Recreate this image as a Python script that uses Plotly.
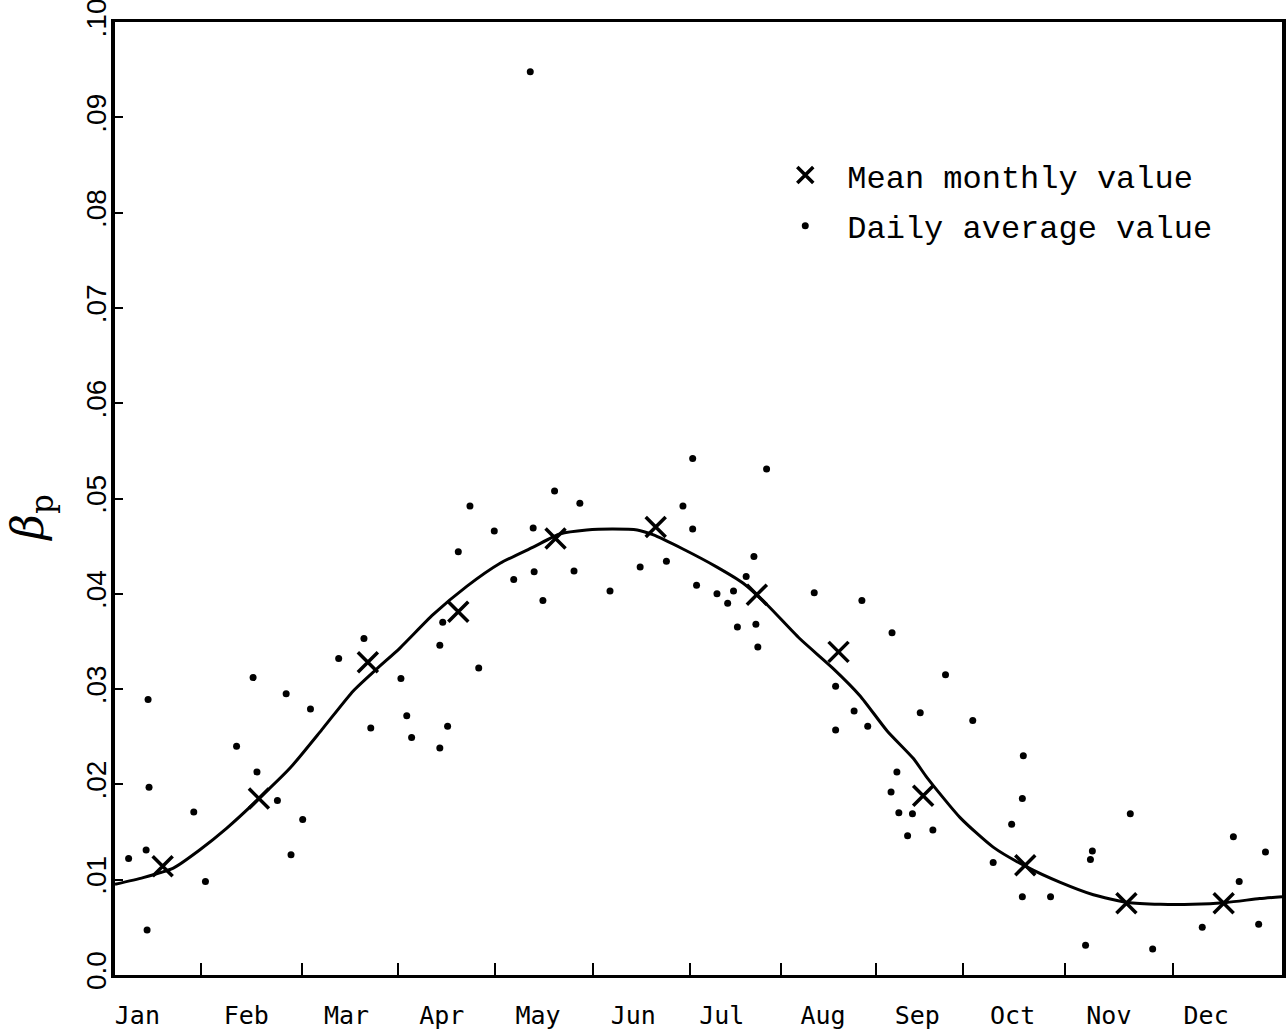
import plotly.graph_objects as go

# ---- axis layout (x in months: 0 = 1 Jan, 12 = 31 Dec) ----
month_labels = ["Jan", "Feb", "Mar", "Apr", "May", "Jun",
                "Jul", "Aug", "Sep", "Oct", "Nov", "Dec"]
month_label_pos = [0.23, 1.35, 2.38, 3.36, 4.35, 5.33,
                   6.24, 7.28, 8.25, 9.23, 10.22, 11.22]
month_bounds = [0.88, 1.92, 2.91, 3.91, 4.92, 5.91,
                6.85, 7.82, 8.72, 9.77, 10.88]

y_tick_vals = [0.00, 0.01, 0.02, 0.03, 0.04, 0.05, 0.06, 0.07, 0.08, 0.09, 0.10]
y_tick_text = ["0.0", ".01", ".02", ".03", ".04", ".05", ".06", ".07", ".08", ".09", ".10"]

# ---- mean monthly turbidity coefficient ----
mean_month = [0.49, 1.48, 2.60, 3.53, 4.53, 5.56, 6.60, 7.44, 8.31, 9.36, 10.40, 11.40]
mean_beta = [0.0114, 0.0185, 0.0328, 0.0381, 0.0458, 0.0470,
             0.0399, 0.0339, 0.0188, 0.0115, 0.0075, 0.0075]

# ---- smoothed annual curve ----
curve_month = [0.00, 0.29, 0.60, 0.87, 1.15, 1.47, 1.80, 2.14, 2.45, 2.69,
               2.93, 3.27, 3.62, 3.96, 4.30, 4.58, 4.85, 5.12, 5.37, 5.53,
               5.84, 6.19, 6.46, 6.70, 7.04, 7.38, 7.66, 7.94, 8.21, 8.35,
               8.69, 9.03, 9.38, 9.72, 10.06, 10.41, 10.75, 11.08, 11.43, 11.77, 12.00]
curve_beta = [0.0095, 0.0102, 0.0112, 0.0131, 0.0154, 0.0184, 0.0217, 0.0259, 0.0298, 0.0321,
              0.0343, 0.0378, 0.0408, 0.0432, 0.0449, 0.0463, 0.0467, 0.0468, 0.0467, 0.0462,
              0.0447, 0.0428, 0.0411, 0.0389, 0.0353, 0.0322, 0.0293, 0.0256, 0.0227, 0.0207,
              0.0165, 0.0134, 0.0113, 0.0097, 0.0084, 0.0076, 0.0074, 0.0074, 0.0076, 0.0080, 0.0082]

# ---- daily average values ----
daily_month = [3.34, 2.30, 1.42, 1.76, 2.94, 0.34, 3.00, 2.01, 2.63, 3.42,
               3.05, 1.25, 1.46, 0.35, 1.67, 0.81, 1.93, 0.32, 0.14, 1.81,
               0.93, 0.33, 2.56, 3.34,
               4.52, 4.78, 3.65, 5.84, 5.94, 3.90, 4.30, 3.53, 4.31, 4.72,
               5.40, 5.67, 4.10, 5.09, 4.40, 5.98, 6.19, 6.36, 6.30, 3.37,
               6.40, 3.74,
               6.70, 6.57, 6.49, 7.19, 7.68, 6.59, 6.61, 7.99, 7.41, 8.54,
               7.60, 8.28, 7.74, 7.41, 8.82,
               9.34, 8.04, 7.98, 9.33, 8.06, 8.20, 8.41, 9.22, 8.15, 10.44,
               11.50, 10.05, 10.03, 11.83, 9.03, 11.56, 9.33, 9.62, 11.18, 11.76,
               9.98, 10.67,
               5.94, 4.27]
daily_beta = [0.0346, 0.0332, 0.0312, 0.0295, 0.0311, 0.0289, 0.0272, 0.0279, 0.0259, 0.0261,
              0.0249, 0.0240, 0.0213, 0.0197, 0.0183, 0.0171, 0.0163, 0.0131, 0.0122, 0.0126,
              0.0098, 0.0047, 0.0353, 0.0238,
              0.0508, 0.0495, 0.0492, 0.0492, 0.0468, 0.0466, 0.0469, 0.0444, 0.0423, 0.0424,
              0.0428, 0.0434, 0.0415, 0.0403, 0.0393, 0.0409, 0.0400, 0.0403, 0.0390, 0.0370,
              0.0365, 0.0322,
              0.0531, 0.0439, 0.0418, 0.0401, 0.0393, 0.0368, 0.0344, 0.0359, 0.0303, 0.0315,
              0.0277, 0.0275, 0.0261, 0.0257, 0.0267,
              0.0230, 0.0213, 0.0192, 0.0185, 0.0170, 0.0169, 0.0152, 0.0158, 0.0146, 0.0169,
              0.0145, 0.0130, 0.0121, 0.0129, 0.0118, 0.0098, 0.0082, 0.0082, 0.0050, 0.0053,
              0.0031, 0.0027,
              0.0542, 0.0948]

fig = go.Figure()

fig.add_trace(go.Scatter(
    x=curve_month, y=curve_beta, mode="lines",
    line=dict(color="black", width=3, shape="spline", smoothing=0.6),
    showlegend=False, hoverinfo="skip",
))

fig.add_trace(go.Scatter(
    x=mean_month, y=mean_beta, mode="markers",
    name="Mean monthly value", legendgroup="mean",
    marker=dict(symbol="x-thin", size=20, line=dict(color="black", width=3.5),
                color="black"),
))

fig.add_trace(go.Scatter(
    x=daily_month, y=daily_beta, mode="markers",
    name="Daily average value", legendgroup="daily",
    marker=dict(symbol="circle", size=7, color="black"),
))

# y-axis title: beta with subscript p
fig.add_annotation(
    text="<i>β</i><sub>p</sub>", xref="paper", yref="paper",
    x=-0.072, y=0.48, xanchor="center", yanchor="middle",
    showarrow=False, textangle=-90,
    font=dict(family="DejaVu Serif", size=44, color="black"),
)

fig.update_layout(
    width=1287, height=1036,
    margin=dict(l=115, r=5, t=22, b=61, autoexpand=False),
    paper_bgcolor="white", plot_bgcolor="white",
    showlegend=True,
    legend=dict(
        x=0.5555, y=0.868, xanchor="left", yanchor="top",
        bgcolor="rgba(0,0,0,0)", borderwidth=0,
        itemwidth=74, tracegroupgap=6,
        font=dict(family="Liberation Mono", size=32, color="black"),
    ),
    xaxis=dict(
        range=[0, 12], showgrid=False, zeroline=False, automargin=False,
        showline=True, linecolor="black", linewidth=3, mirror=True,
        tickmode="array", tickvals=month_label_pos, ticktext=month_labels,
        ticks="", ticklabelstandoff=16,
        tickfont=dict(family="DejaVu Sans Mono", size=25, color="black"),
        minor=dict(tickmode="array", tickvals=month_bounds, ticks="inside",
                   ticklen=12, tickwidth=2, tickcolor="black", showgrid=False),
    ),
    yaxis=dict(
        range=[-0.00002, 0.10002], showgrid=False, zeroline=False, automargin=False,
        showline=True, linecolor="black", linewidth=4, mirror=True,
        tickmode="array", tickvals=y_tick_vals, ticktext=y_tick_text,
        ticks="inside", ticklen=8, tickwidth=2, tickcolor="black",
        tickangle=-90, ticklabelstandoff=-6, ticklabeloverflow="allow",
        tickfont=dict(family="Liberation Sans", size=28, color="black"),
    ),
)

fig.write_html("out.html")
